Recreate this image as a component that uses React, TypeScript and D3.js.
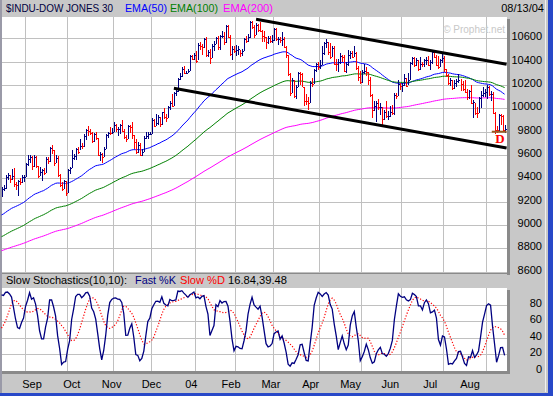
import React from "react";
import * as d3 from "d3";

const W = 553;
const H = 396;

// Look-back sessions (Jul 14 - Aug 13 2003) used only for the indicator warm-up
const warmHigh = [9340, 9300, 9240, 9130, 9200, 9190, 9180, 9210, 9260, 9290, 9310, 9280, 9240, 9320, 9240, 9200, 9190, 9100, 9130, 9200, 9240, 9320, 9320];
const warmLow = [9250, 9200, 9100, 9040, 9090, 9080, 9070, 9120, 9100, 9090, 9230, 9180, 9170, 9200, 9130, 9070, 9030, 9000, 9030, 9110, 9160, 9210, 9240];
const warmClose = [9284, 9229, 9128, 9094, 9188, 9096, 9158, 9194, 9112, 9284, 9266, 9204, 9200, 9234, 9153, 9186, 9037, 9061, 9127, 9191, 9218, 9310, 9271];

// Visible sessions Aug 14 2003 - Aug 13 2004
const highs = [
  9330, 9340, 9430, 9450, 9430, 9480, 9490, 9370, 9390, 9400, 9430, 9430,
  9535, 9600, 9600, 9590, 9600, 9590, 9510, 9500, 9480, 9490, 9580, 9580, 9670, 9690, 9640, 9600, 9590, 9440, 9370, 9390, 9380,
  9480, 9500, 9640, 9610, 9660, 9670, 9740, 9700, 9780, 9820, 9850, 9820, 9800, 9790, 9800, 9750, 9630, 9620, 9670, 9780, 9800, 9840, 9830,
  9880, 9870, 9840, 9870, 9900, 9820, 9770, 9860, 9860, 9880, 9770, 9740, 9710, 9700, 9650, 9760, 9800, 9800, 9800,
  9920, 9910, 9950, 9940, 9930, 9970, 10000, 9950, 10020, 10060, 10120, 10140, 10160, 10260, 10300, 10350, 10360, 10320, 10340, 10460, 10460, 10470,
  10490, 10560, 10570, 10550, 10600, 10610, 10500, 10510, 10550, 10580, 10610, 10620, 10630, 10660, 10650, 10710, 10710, 10630, 10530, 10530,
  10540, 10530, 10500, 10510, 10600, 10620, 10640, 10750, 10750, 10710, 10730, 10720, 10740, 10670, 10660, 10610, 10620, 10620, 10630,
  10690, 10690, 10610, 10610, 10650, 10610, 10530, 10460, 10300, 10260, 10240, 10200, 10310, 10310, 10300, 10180, 10120, 10100, 10230, 10260, 10340, 10390, 10400,
  10410, 10530, 10570, 10590, 10570, 10560, 10530, 10530, 10420, 10420, 10470, 10460, 10460, 10400, 10500, 10490, 10490, 10530, 10480, 10360, 10320,
  10330, 10380, 10350, 10310, 10270, 10120, 10060, 10060, 10080, 10050, 10010, 9990, 10060, 9980, 10020, 10030, 10130, 10130, 10240, 10220,
  10220, 10290, 10260, 10300, 10400, 10440, 10440, 10430, 10410, 10440, 10400, 10420, 10440, 10450, 10410, 10490, 10500, 10460, 10450, 10420, 10470,
  10450, 10340, 10290, 10260, 10240, 10240, 10250, 10290, 10250, 10230, 10240, 10170, 10160, 10200, 10070, 10050, 10010, 10100, 10150, 10180, 10170,
  10200, 10190, 10150, 10140, 9970, 9850, 9950, 9950, 9940, 9860,
];
const lows = [
  9240, 9290, 9310, 9390, 9360, 9390, 9330, 9300, 9250, 9340, 9360, 9370,
  9410, 9510, 9530, 9470, 9500, 9490, 9400, 9420, 9380, 9430, 9450, 9520, 9540, 9610, 9510, 9530, 9410, 9330, 9290, 9310, 9250,
  9275, 9440, 9490, 9560, 9560, 9610, 9640, 9650, 9670, 9730, 9760, 9770, 9700, 9710, 9730, 9590, 9550, 9530, 9580, 9650, 9750, 9770, 9780,
  9800, 9800, 9760, 9780, 9800, 9740, 9710, 9740, 9790, 9740, 9650, 9610, 9620, 9590, 9590, 9630, 9740, 9740, 9770,
  9780, 9840, 9850, 9860, 9840, 9860, 9910, 9880, 9920, 9990, 10010, 10020, 10110, 10140, 10240, 10270, 10290, 10290, 10300, 10320, 10410, 10410,
  10390, 10410, 10500, 10460, 10520, 10440, 10440, 10380, 10430, 10490, 10550, 10500, 10500, 10600, 10540, 10560, 10600, 10450, 10410, 10470,
  10450, 10460, 10440, 10450, 10490, 10560, 10570, 10600, 10680, 10600, 10630, 10650, 10650, 10570, 10570, 10510, 10550, 10560, 10560,
  10580, 10580, 10540, 10560, 10530, 10520, 10430, 10280, 10110, 10130, 10090, 10080, 10180, 10200, 10180, 10020, 10030, 9990, 10050, 10180, 10210, 10310, 10330,
  10340, 10370, 10460, 10520, 10460, 10420, 10440, 10370, 10320, 10310, 10380, 10400, 10310, 10300, 10360, 10420, 10430, 10440, 10330, 10230, 10210,
  10220, 10290, 10280, 10200, 10100, 9920, 9980, 9880, 9990, 9940, 9850, 9900, 9920, 9900, 9930, 9940, 9940, 10080, 10110, 10160,
  10140, 10190, 10180, 10200, 10240, 10370, 10350, 10360, 10320, 10330, 10350, 10350, 10370, 10360, 10330, 10380, 10430, 10360, 10340, 10350, 10390,
  10310, 10270, 10200, 10190, 10160, 10170, 10180, 10220, 10150, 10150, 10130, 10070, 10080, 10040, 9920, 9940, 9920, 9960, 10000, 10100, 10100,
  10080, 10110, 10060, 9950, 9780, 9790, 9810, 9860, 9810, 9790,
];
const closes = [
  9310, 9321, 9412, 9428, 9397, 9423, 9348, 9340, 9374, 9373, 9415, 9416,
  9523, 9568, 9587, 9503, 9586, 9507, 9420, 9459, 9471, 9448, 9567, 9546, 9659, 9644, 9535, 9576, 9425, 9343, 9313, 9380, 9275,
  9469, 9487, 9572, 9594, 9654, 9630, 9680, 9675, 9765, 9812, 9803, 9791, 9721, 9777, 9747, 9598, 9613, 9582, 9648, 9774, 9787, 9786, 9801,
  9858, 9820, 9820, 9856, 9810, 9757, 9737, 9848, 9838, 9768, 9710, 9624, 9690, 9604, 9628, 9748, 9763, 9779, 9782,
  9899, 9853, 9873, 9930, 9862, 9965, 9923, 9921, 10008, 10042, 10023, 10129, 10145, 10248, 10278, 10341, 10305, 10305, 10324, 10450, 10425, 10454,
  10409, 10544, 10538, 10529, 10592, 10458, 10485, 10427, 10538, 10553, 10600, 10528, 10623, 10623, 10568, 10702, 10609, 10468, 10510, 10488,
  10499, 10505, 10470, 10495, 10593, 10579, 10613, 10737, 10694, 10628, 10714, 10671, 10665, 10619, 10609, 10566, 10601, 10580, 10584,
  10679, 10591, 10593, 10588, 10595, 10529, 10457, 10296, 10128, 10240, 10102, 10184, 10300, 10295, 10186, 10064, 10063, 10048, 10218, 10212, 10329, 10381, 10357,
  10373, 10470, 10558, 10570, 10480, 10442, 10515, 10381, 10377, 10397, 10451, 10437, 10317, 10379, 10461, 10472, 10444, 10478, 10343, 10272, 10225,
  10314, 10317, 10310, 10241, 10117, 9990, 10019, 10045, 10010, 10012, 9906, 9968, 9937, 9937, 9966, 9958, 10117, 10109, 10205, 10188,
  10202, 10262, 10195, 10242, 10391, 10432, 10368, 10410, 10334, 10380, 10378, 10416, 10416, 10371, 10395, 10479, 10444, 10372, 10357, 10413, 10435,
  10334, 10282, 10219, 10240, 10171, 10213, 10238, 10247, 10208, 10163, 10140, 10094, 10149, 10046, 10051, 9962, 9961, 10085, 10117, 10129, 10140,
  10179, 10121, 10127, 9963, 9815, 9814, 9944, 9938, 9815, 9825,
];

const monthLabels = ["Sep", "Oct", "Nov", "Dec", "04", "Feb", "Mar", "Apr", "May", "Jun", "Jul", "Aug"];
const monthStartIdx = [12, 33, 56, 75, 97, 117, 136, 159, 180, 200, 221, 242];
const priceTicks = [8600, 8800, 9000, 9200, 9400, 9600, 9800, 10000, 10200, 10400, 10600];
const stochTicks = [0, 20, 40, 60, 80];
const emaPeriods = [50, 100, 200];
const emaStart = [9087, 8901, 8781];
const emaColors = ["#0000ff", "#008000", "#ff00ff"];
const channelUpper: [number, number][] = [[127, 10763], [252, 10377]];
const channelLower: [number, number][] = [[86, 10172], [252, 9660]];
const supportLine: [number, number][] = [[244.6, 9800], [252, 9800]];
const stochLast = ["16.84", "39.48"];
const chartDate = "08/13/04";

const FONT = "Arial, 'Liberation Sans', sans-serif";

function ema(values: number[], n: number, seed: number) {
  const k = 2 / (n + 1);
  const out = [seed];
  for (let i = 1; i < values.length; i++) out.push(values[i] * k + out[i - 1] * (1 - k));
  return out;
}

function Label(props: { x: number; y: number; len: number; fill: string; children: React.ReactNode }) {
  return (
    <text x={props.x} y={props.y} fontSize={11} fill={props.fill} textLength={props.len} lengthAdjust="spacingAndGlyphs">
      {props.children}
    </text>
  );
}

export default function App() {
  const n = closes.length;
  const x = d3.scaleLinear().domain([0, n - 1]).range([1.5, 504.6]);
  const yP = d3.scaleLinear().domain([8600, 10600]).range([271.8, 38.3]);
  const yS = d3.scaleLinear().domain([0, 100]).range([371, 288]);
  const labelX = d3.scalePoint<string>().domain(monthLabels).range([32, 470]);

  // stochastics
  const aH = warmHigh.concat(highs);
  const aL = warmLow.concat(lows);
  const aC = warmClose.concat(closes);
  const off = warmClose.length;
  const raw: (number | null)[] = aC.map((c, i) => {
    if (i < 9) return null;
    const hh = d3.max(aH.slice(i - 9, i + 1))!;
    const ll = d3.min(aL.slice(i - 9, i + 1))!;
    return hh === ll ? 50 : (100 * (c - ll)) / (hh - ll);
  });
  const K: (number | null)[] = raw.map((_, i) => (i < 11 ? null : d3.mean(raw.slice(i - 2, i + 1) as number[])!));
  const D: (number | null)[] = K.map((_, i) => (i < 20 ? null : d3.mean(K.slice(i - 9, i + 1) as number[])!));
  const kVis = K.slice(off) as number[];
  const dVis = D.slice(off) as number[];

  const emas = emaPeriods.map((p, j) => ema(closes, p, emaStart[j]));
  const lineP = d3.line<number>().x((_, i) => x(i)).y((v) => yP(v));
  const lineS = d3.line<number>().x((_, i) => x(i)).y((v) => yS(v));
  const seg = (pts: [number, number][]) => d3.line<[number, number]>().x((d) => x(d[0])).y((d) => yP(d[1]))(pts)!;

  const mainTop = 17, mainBot = 272, plotL = 2, plotR = 507;
  const stTop = 288, stBot = 371;

  return (
    <svg width={W} height={H} style={{ position: "absolute", left: 0, top: 0, display: "block" }} fontFamily={FONT}>
      <rect x={0} y={0} width={W} height={H} fill="#c8c8c8" />
      <rect x={0} y={0} width={2} height={H} fill="#9a9aa8" />
      <rect x={548} y={0} width={5} height={H} fill="#2848c8" />
      <rect x={0} y={393} width={W} height={3} fill="#2848c8" />
      <line x1={545.5} y1={0} x2={545.5} y2={392} stroke="#f0f0f0" />

      {/* header */}
      <Label x={6} y={12} len={107} fill="#000040">$INDU-DOW JONES 30</Label>
      <Label x={125} y={12} len={42} fill={emaColors[0]}>EMA(50)</Label>
      <Label x={170} y={12} len={48} fill={emaColors[1]}>EMA(100)</Label>
      <Label x={223} y={12} len={50} fill={emaColors[2]}>EMA(200)</Label>
      <text x={544} y={12} fontSize={11} fill="#000" textAnchor="end">{chartDate}</text>

      {/* main panel */}
      <rect x={plotL} y={mainTop} width={plotR - plotL} height={mainBot - mainTop} fill="#fff" />
      <rect x={plotR} y={mainTop + 2} width={3} height={mainBot - mainTop + 1} fill="#8a8a8a" />
      <rect x={plotL} y={mainBot} width={plotR - plotL + 3} height={2} fill="#8a8a8a" />
      <g shapeRendering="crispEdges">
        {priceTicks.map((t) => (
          <line key={t} x1={plotL} x2={plotR} y1={Math.round(yP(t)) + 0.5} y2={Math.round(yP(t)) + 0.5} stroke="#c0c0c0" />
        ))}
        {monthStartIdx.map((i) => (
          <line key={i} x1={Math.round(x(i)) - 0.5} x2={Math.round(x(i)) - 0.5} y1={mainTop} y2={mainBot} stroke="#c0c0c0" />
        ))}
      </g>
      <text x={505} y={33} fontSize={10} fill="#c8c8c8" textAnchor="end">© Prophet.net</text>
      {emas.map((e, j) => (
        <path key={j} d={lineP(e)!} fill="none" stroke={emaColors[j]} strokeWidth={1} />
      ))}
      <g shapeRendering="crispEdges">
        {closes.map((c, i) => {
          const prev = i === 0 ? warmClose[warmClose.length - 1] : closes[i - 1];
          const col = c < prev ? "#ff0000" : "#000080";
          const xi = Math.round(x(i)) + 0.5;
          return (
            <g key={i} stroke={col}>
              <line x1={xi} x2={xi} y1={yP(highs[i])} y2={yP(lows[i])} />
              <line x1={xi} x2={xi + 1.5} y1={Math.round(yP(c)) + 0.5} y2={Math.round(yP(c)) + 0.5} />
            </g>
          );
        })}
      </g>
      <path d={seg(channelUpper)} stroke="#000" strokeWidth={3} fill="none" />
      <path d={seg(channelLower)} stroke="#000" strokeWidth={3} fill="none" />
      <path d={seg(supportLine)} stroke="#9a5a20" strokeWidth={2} fill="none" />
      <text x={500} y={143} fontSize={13} fontWeight="bold" fontFamily="'Liberation Serif', 'Times New Roman', serif" fill="#ff0000" textAnchor="middle">D</text>
      {priceTicks.map((t) => (
        <text key={t} x={542} y={yP(t) + 2} fontSize={11} textAnchor="end" fill="#000">{t}</text>
      ))}

      {/* stochastics panel */}
      <Label x={6} y={284} len={121} fill="#000">Slow Stochastics(10,10):</Label>
      <Label x={135} y={284} len={41} fill="#000080">Fast %K</Label>
      <Label x={180} y={284} len={45} fill="#ff0000">Slow %D</Label>
      <Label x={228} y={284} len={59} fill="#000">{stochLast.join(",")}</Label>
      <rect x={plotL} y={stTop} width={plotR - plotL} height={stBot - stTop} fill="#fff" />
      <rect x={plotR} y={stTop + 2} width={3} height={stBot - stTop + 1} fill="#8a8a8a" />
      <rect x={plotL} y={stBot} width={plotR - plotL + 3} height={3} fill="#8a8a8a" />
      <g shapeRendering="crispEdges">
        {stochTicks.filter((t) => t > 0).map((t) => (
          <line key={t} x1={plotL} x2={plotR} y1={Math.round(yS(t)) + 0.5} y2={Math.round(yS(t)) + 0.5} stroke="#c0c0c0" />
        ))}
        {monthStartIdx.map((i) => (
          <line key={i} x1={Math.round(x(i)) - 0.5} x2={Math.round(x(i)) - 0.5} y1={stTop} y2={stBot} stroke="#c0c0c0" />
        ))}
      </g>
      <path d={lineS(dVis)!} fill="none" stroke="#ff0000" strokeWidth={1.2} strokeDasharray="1.2 1.8" />
      <path d={lineS(kVis)!} fill="none" stroke="#000080" strokeWidth={1.3} />
      {stochTicks.map((t) => (
        <text key={t} x={542} y={yS(t) + 2} fontSize={11} textAnchor="end" fill="#000">{t}</text>
      ))}

      {/* month labels */}
      {monthLabels.map((m) => (
        <text key={m} x={labelX(m)} y={388} fontSize={11} textAnchor="middle" fill="#000">{m}</text>
      ))}
    </svg>
  );
}
